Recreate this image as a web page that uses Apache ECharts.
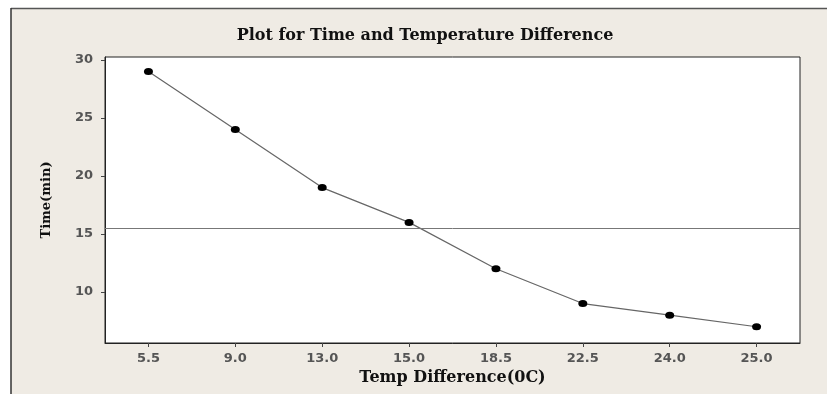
<!DOCTYPE html>
<html>
<head>
<meta charset="utf-8">
<script src="https://cdn.jsdelivr.net/npm/echarts@6/dist/echarts.min.js"></script>
<style>
html,body{margin:0;padding:0;background:#fff;overflow:hidden;}
#chart{width:827px;height:394px;}
</style>
</head>
<body>
<div id="chart"></div>
<script>
// Data
const categories = ['5.5', '9.0', '13.0', '15.0', '18.5', '22.5', '24.0', '25.0'];
const timeValues = [29, 24, 19, 16, 12, 9, 8, 7];
const yTickValues = [10, 15, 20, 25, 30];
const yMin = 5.6;
const yMax = 30.26;

const chart = echarts.init(document.getElementById('chart'), null, {renderer: 'canvas'});
const labelFont = {fontFamily: 'DejaVu Sans', fontWeight: 'bold', fontSize: 13, color: '#555'};

chart.setOption({
  backgroundColor: '#ffffff',
  animation: false,
  graphic: [
    {type: 'rect', z: -10, silent: true,
     shape: {x: 11, y: 8, width: 816, height: 386},
     style: {fill: '#efebe4'}},
    {type: 'line', z: -9, silent: true,
     shape: {x1: 11, y1: 8.5, x2: 827, y2: 8.5},
     style: {stroke: '#555', lineWidth: 1.5}},
    {type: 'line', z: -9, silent: true,
     shape: {x1: 11, y1: 8, x2: 11, y2: 394},
     style: {stroke: '#333', lineWidth: 1.5}}
  ],
  title: {
    text: 'Plot for Time and Temperature Difference',
    left: 425,
    textAlign: 'center',
    top: 28,
    padding: 0,
    textStyle: {fontFamily: 'DejaVu Serif', fontWeight: 'bold', fontSize: 16, color: '#111'}
  },
  grid: {
    left: 105, right: 27, top: 57, bottom: 51,
    show: true,
    backgroundColor: '#ffffff',
    borderColor: '#222',
    borderWidth: 1
  },
  xAxis: {
    type: 'category',
    data: categories,
    boundaryGap: true,
    name: 'Temp Difference(0C)',
    nameLocation: 'middle',
    nameGap: 27,
    nameTextStyle: {fontFamily: 'DejaVu Serif', fontWeight: 'bold', fontSize: 16, color: '#111'},
    axisLine: {show: true, lineStyle: {color: '#222', width: 1}},
    axisTick: {show: true, alignWithLabel: true, length: 4, lineStyle: {color: '#444'}},
    axisLabel: Object.assign({margin: 9}, labelFont),
    splitLine: {show: false}
  },
  yAxis: {
    type: 'value',
    min: yMin,
    max: yMax,
    name: 'Time(min)',
    nameLocation: 'middle',
    nameGap: 52,
    nameTextStyle: {fontFamily: 'DejaVu Serif', fontWeight: 'bold', fontSize: 13, color: '#111'},
    axisLine: {show: true, lineStyle: {color: '#222', width: 1}},
    axisTick: {show: true, length: 4, customValues: yTickValues, lineStyle: {color: '#444'}},
    axisLabel: Object.assign({margin: 12, customValues: yTickValues}, labelFont),
    splitLine: {show: false}
  },
  series: [{
    type: 'line',
    data: timeValues,
    symbol: 'circle',
    symbolSize: [9, 7],
    itemStyle: {color: '#000'},
    lineStyle: {color: '#666', width: 1.2},
    markLine: {
      silent: true,
      symbol: 'none',
      label: {show: false},
      lineStyle: {color: '#777', width: 1, type: 'solid'},
      data: [{type: 'average'}]
    }
  }]
});
</script>
</body>
</html>
